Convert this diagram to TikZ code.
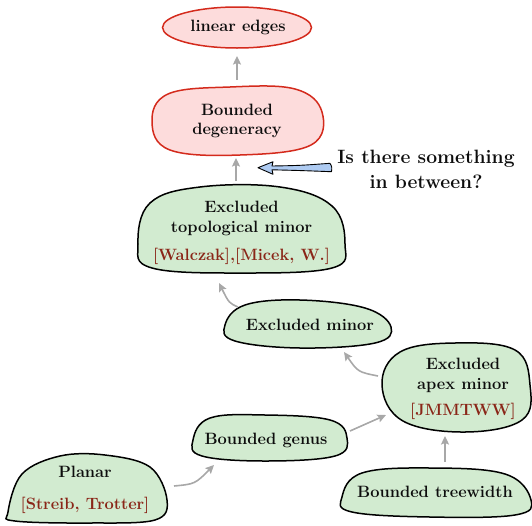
\documentclass[tikz,border=0pt]{standalone}
\usepackage{fontspec}
\usetikzlibrary{arrows.meta}

\definecolor{blobgreen}{HTML}{D2EBD0}
\definecolor{blobpink}{HTML}{FDDCDC}
\definecolor{blobred}{HTML}{D42A1C}
\definecolor{citered}{HTML}{8A2618}
\definecolor{linkgray}{HTML}{A8A8A8}
\definecolor{hintblue}{HTML}{AECBF2}

\newcommand{\refcite}[1]{\textcolor{citered}{#1}}

\begin{document}
\begin{tikzpicture}[x=1pt, y=-1pt,
  blob/.style={draw=black, line width=1.5pt, fill=blobgreen},
  redblob/.style={draw=blobred, line width=1.5pt, fill=blobpink},
  txt/.style={font=\fontsize{16.4}{20}\selectfont\bfseries, align=center,
              inner sep=0pt, text=black!95},
  bigtxt/.style={txt, font=\fontsize{19.3}{25}\selectfont\bfseries},
  link/.style={draw=linkgray, line width=1.6pt,
               -{Stealth[length=8.5pt, width=8pt, inset=1.5pt]}},
  hint/.style={draw=black, line width=0.9pt, fill=hintblue, line join=round}
]
\useasboundingbox (0,0) rectangle (532,525);

% ---- blob outlines ----
\draw[redblob] (237,27.5) ellipse [x radius=74.5, y radius=20.5];
\draw[redblob] plot[smooth cycle, tension=0.65] coordinates
  {(152,122) (168,94) (230,87) (295,89) (322,112) (311,145) (240,155) (170,150)};
\draw[blob] plot[smooth cycle, tension=0.65] coordinates
  {(138,244) (150,203) (200,187) (280,187) (332,206) (345,244) (332,268)
   (240,273) (152,268)};
\draw[blob] plot[smooth cycle, tension=0.65] coordinates
  {(225,325) (245,305) (300,300) (365,308) (391,327) (375,343) (300,348)
   (235,341)};
\draw[blob] plot[smooth cycle, tension=0.65] coordinates
  {(382,385) (400,352) (455,343) (515,350) (530,385) (522,420) (465,432)
   (403,421)};
\draw[blob] plot[smooth cycle, tension=0.65] coordinates
  {(193,440) (210,418) (265,415) (330,420) (347,438) (335,456) (265,461)
   (202,456)};
\draw[blob] plot[smooth cycle, tension=0.6] coordinates
  {(8,512) (22,474) (60,456) (105,455) (150,467) (167,500) (155,520)
   (90,523) (15,521)};
\draw[blob] plot[smooth cycle, tension=0.65] coordinates
  {(342,497) (362,473) (430,468) (505,474) (531,500) (515,515) (430,517)
   (352,512)};

% ---- labels ----
\node[txt] (lin)   at (238,27)    {linear edges};
\node[txt] (deg)   at (237,121)   {Bounded\\[-1.5pt]degeneracy};
\node[txt] (topo)  at (241.5,233) {Excluded\\topological minor\\[8pt]\refcite{[Walczak],[Micek, W.]}};
\node[txt] (exmin) at (310,325)   {Excluded minor};
\node[txt] (apex)  at (463,389)   {Excluded\\apex minor\\[6.5pt]\refcite{[JMMTWW]}};
\node[txt] (genus) at (266,440)   {Bounded genus};
\node[txt] (plan)  at (85,490)    {Planar\\[11.5pt]\refcite{[Streib, Trotter]}};
\node[txt] (tw)    at (435,492)   {Bounded treewidth};
\node[bigtxt] (quest) at (426,169) {Is there something\\in between?};

% ---- connector end points on the blob outlines ----
\coordinate (lin-s)   at (237,56);
\coordinate (deg-n)   at (237,80);
\coordinate (deg-s)   at (236,158);
\coordinate (topo-n)  at (236,181);
\coordinate (topo-s)  at (219,283);
\coordinate (exmin-n) at (238,307);
\coordinate (exmin-s) at (344,352);
\coordinate (apex-w)  at (378,376);
\coordinate (apex-sw) at (386,415);
\coordinate (apex-s)  at (445,436);
\coordinate (genus-e) at (350,431);
\coordinate (genus-sw) at (214,465);
\coordinate (plan-e)  at (174,486);
\coordinate (tw-n)    at (445,462);

% ---- implications ----
\draw[link] (deg-n) -- (lin-s);
\draw[link] (topo-n) -- (deg-s);
\draw[link] (exmin-n) .. controls (229,303) .. (topo-s);
\draw[link] (apex-w) .. controls (358,372) .. (exmin-s);
\draw[link] (genus-e) -- (apex-sw);
\draw[link] (plan-e) .. controls (195,484) .. (genus-sw);
\draw[link] (tw-n) -- (apex-s);

% ---- pointer from the question to the gap ----
\coordinate (hint-tip) at (258,167.7);
\draw[hint] (hint-tip) -- (273,161.7) -- (272,166) .. controls (300,165.5) .. (330,163.3)
  .. controls (332,167) .. (331.5,171.7) .. controls (300,170.5) .. (272,169.8)
  -- (273,174.3) -- cycle;
\end{tikzpicture}
\end{document}
